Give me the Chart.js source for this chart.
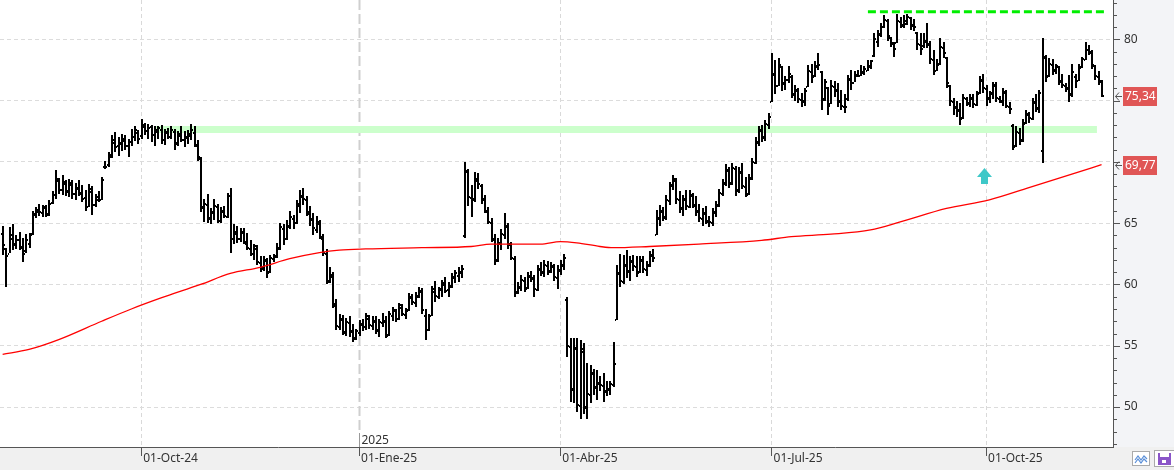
<!DOCTYPE html>
<html>
<head>
<meta charset="utf-8">
<script src="https://cdn.jsdelivr.net/npm/chart.js@4.4.1/dist/chart.umd.min.js"></script>
<style>
  html, body { margin: 0; padding: 0; background: #fff; }
  #wrap { width: 1174px; height: 470px; position: relative; }
</style>
</head>
<body>
<div id="wrap"><canvas id="priceChart"></canvas></div>
<script>
// daily bars, index 0 = first visible session
var opens = [
  64.2, 63.0, 62.6, 63.8, 63.3, 63.7, 63.1, 62.8, 63.4, 64.2,
  65.8, 66.0, 65.9, 66.3, 65.8, 66.7, 67.4, 68.5, 67.8, 68.3,
  67.6, 68.2, 67.5, 67.9, 67.5, 67.1, 66.4, 67.6, 66.6, 67.0,
  67.0, 69.7, 69.8, 70.5, 71.6, 71.4, 71.6, 71.8, 71.4, 71.7,
  72.1, 72.4, 72.2, 72.9, 72.6, 72.9, 72.3, 72.5, 72.7, 71.9,
  72.4, 72.1, 72.5, 71.6, 72.2, 71.9, 72.0, 72.2, 72.4, 71.4,
  70.3, 66.3, 66.6, 65.4, 65.9, 66.4, 65.3, 66.0, 65.6, 67.3,
  63.8, 64.2, 63.8, 64.3, 63.4, 63.0, 62.6, 63.0, 61.8, 61.4,
  62.0, 61.0, 62.2, 62.3, 63.0, 64.6, 63.8, 64.8, 65.4, 65.1,
  66.5, 67.2, 67.0, 65.8, 65.4, 64.5, 65.0, 63.8, 62.6, 60.3,
  60.7, 58.3, 56.6, 57.2, 56.1, 56.9, 56.2, 55.6, 56.1, 56.8,
  56.6, 57.3, 56.7, 57.0, 56.3, 56.9, 57.0, 55.9, 57.5, 57.9,
  57.3, 58.2, 57.6, 57.9, 59.0, 58.6, 59.1, 59.5, 57.5, 56.4,
  57.5, 59.5, 59.1, 59.6, 60.0, 59.6, 59.9, 60.6, 60.8, 61.0,
  64.0, 69.3, 67.1, 67.0, 68.5, 68.1, 67.0, 66.0, 65.1, 63.7,
  62.0, 63.4, 64.1, 64.8, 63.3, 62.2, 59.4, 59.8, 60.4, 59.7,
  60.7, 60.5, 59.6, 61.3, 61.0, 61.6, 61.1, 61.5, 60.6, 61.2,
  61.6, 58.8, 55.0, 51.5, 54.8, 50.2, 54.6, 50.0, 51.1, 52.8,
  51.6, 52.0, 51.8, 51.3, 51.5, 51.9, 57.2, 60.9, 60.3, 61.6,
  61.1, 61.9, 61.5, 61.0, 62.0, 61.3, 61.6, 62.4, 64.1, 65.4,
  66.0, 65.5, 66.9, 68.1, 68.5, 67.0, 66.2, 67.0, 66.4, 67.3,
  66.5, 66.0, 65.4, 65.8, 65.2, 65.1, 65.9, 66.5, 67.5, 68.3,
  69.3, 68.3, 69.5, 67.7, 69.2, 68.0, 67.4, 68.7, 70.0, 71.6,
  72.6, 72.0, 73.1, 75.0, 77.2, 76.3, 77.8, 76.4, 76.8, 77.0,
  75.5, 75.9, 75.1, 75.0, 76.2, 77.4, 77.0, 77.8, 77.4, 75.1,
  76.1, 74.8, 76.2, 75.9, 75.0, 74.6, 75.2, 76.8, 76.5, 77.1,
  77.1, 77.3, 77.5, 77.8, 78.7, 79.9, 80.4, 81.1, 81.6, 80.2,
  79.7, 79.8, 81.5, 81.2, 81.3, 81.8, 81.2, 80.6, 79.6, 79.5,
  79.9, 79.6, 78.4, 77.5, 78.0, 79.4, 78.6, 76.3, 75.0, 74.5,
  74.2, 73.6, 75.2, 74.8, 75.2, 74.7, 75.6, 76.7, 76.0, 75.2,
  75.6, 76.3, 75.2, 75.0, 75.7, 74.6, 73.0, 71.3, 72.4, 71.8,
  73.2, 73.9, 73.6, 74.9, 74.4, 71.0, 78.6, 77.0, 78.0, 77.5,
  77.8, 76.6, 76.3, 76.0, 75.5, 77.0, 76.7, 77.8, 78.4, 79.2,
  79.0, 77.9, 77.0, 76.6
];
var highs = [
  64.8, 63.0, 64.7, 64.9, 64.0, 64.3, 63.8, 64.1, 64.2, 66.0,
  66.3, 66.6, 66.5, 66.5, 66.9, 67.6, 69.3, 68.7, 68.9, 68.5,
  68.6, 68.5, 68.3, 68.5, 68.1, 67.7, 68.2, 68.0, 67.4, 67.6,
  68.8, 70.1, 70.8, 72.2, 72.4, 72.0, 72.3, 72.2, 71.9, 72.7,
  72.9, 72.6, 73.5, 73.2, 73.1, 73.0, 72.9, 72.9, 73.0, 72.7,
  72.8, 72.9, 72.7, 72.5, 72.9, 72.5, 72.6, 73.1, 72.9, 71.8,
  70.4, 67.0, 67.4, 66.2, 67.0, 66.6, 66.3, 66.4, 67.5, 67.9,
  64.9, 64.8, 64.6, 64.6, 64.2, 63.6, 63.3, 63.2, 62.3, 62.3,
  62.2, 62.4, 62.5, 63.4, 65.0, 64.9, 65.3, 66.0, 65.7, 66.9,
  67.7, 67.9, 67.2, 66.4, 65.8, 65.6, 65.3, 64.1, 62.9, 61.4,
  61.0, 58.8, 57.6, 57.5, 57.3, 57.4, 56.8, 56.4, 57.1, 57.2,
  57.7, 57.5, 57.4, 57.4, 57.2, 57.7, 57.4, 57.8, 58.2, 58.0,
  58.5, 58.4, 58.1, 59.3, 59.2, 59.4, 59.8, 59.7, 58.0, 57.6,
  59.9, 60.3, 59.8, 60.4, 60.6, 60.2, 60.9, 61.2, 61.4, 61.6,
  70.0, 69.4, 68.1, 69.2, 69.1, 68.2, 67.3, 66.3, 65.4, 64.1,
  63.8, 64.5, 65.8, 65.0, 63.5, 62.3, 60.2, 60.8, 60.6, 61.0,
  61.1, 60.8, 61.6, 61.8, 62.0, 61.9, 61.8, 61.7, 61.6, 62.0,
  62.5, 59.0, 55.6, 55.6, 55.6, 55.5, 55.2, 53.6, 53.4, 53.1,
  53.0, 52.5, 52.8, 52.1, 52.1, 55.3, 61.6, 62.5, 62.4, 62.8,
  62.3, 62.4, 62.3, 62.3, 62.3, 61.9, 62.7, 62.9, 66.1, 66.5,
  66.3, 67.3, 68.4, 68.9, 68.7, 67.6, 67.3, 67.7, 67.7, 67.5,
  67.2, 66.6, 66.2, 66.4, 65.6, 66.2, 66.8, 67.8, 68.6, 69.8,
  69.6, 69.9, 69.7, 69.6, 69.9, 68.8, 69.0, 70.3, 72.0, 72.9,
  73.0, 73.4, 74.0, 78.9, 78.3, 78.5, 77.8, 77.0, 77.8, 77.1,
  76.3, 76.0, 75.6, 76.0, 77.9, 78.0, 78.2, 78.9, 77.4, 76.8,
  76.1, 76.7, 76.6, 76.4, 75.9, 75.5, 77.1, 77.5, 77.4, 77.5,
  77.9, 77.8, 78.3, 78.3, 80.5, 80.8, 81.3, 82.0, 81.7, 80.2,
  79.8, 82.1, 81.8, 82.0, 82.1, 81.8, 81.7, 80.6, 80.5, 80.5,
  81.3, 79.9, 79.1, 78.4, 80.1, 79.8, 78.6, 76.3, 75.2, 75.0,
  74.8, 75.5, 75.3, 75.5, 75.5, 75.8, 77.0, 77.2, 76.3, 75.8,
  76.5, 76.5, 75.4, 76.0, 75.9, 74.9, 73.1, 72.9, 72.8, 73.5,
  74.2, 74.1, 75.2, 75.5, 75.9, 80.1, 78.7, 78.5, 78.4, 78.0,
  77.8, 77.2, 76.4, 77.1, 78.0, 77.2, 78.0, 78.6, 79.8, 79.5,
  79.1, 77.9, 77.4, 76.7
];
var lows = [
  62.4, 59.8, 62.6, 62.8, 62.9, 62.8, 61.8, 62.6, 63.0, 64.0,
  65.4, 65.6, 65.5, 65.5, 65.6, 66.6, 67.0, 67.4, 67.3, 67.2,
  67.1, 67.0, 66.9, 67.2, 66.7, 66.0, 66.3, 65.7, 66.3, 66.7,
  66.9, 69.4, 69.6, 70.3, 70.8, 70.5, 70.9, 71.0, 70.4, 71.3,
  71.7, 71.5, 71.9, 72.2, 71.9, 71.6, 71.3, 71.9, 71.5, 71.4,
  71.9, 71.9, 71.0, 71.3, 71.6, 71.2, 71.5, 71.8, 71.2, 70.1,
  65.9, 65.1, 65.0, 64.9, 65.3, 65.0, 65.0, 65.4, 65.4, 62.6,
  63.3, 63.4, 63.5, 63.3, 62.8, 62.3, 62.0, 61.6, 61.0, 61.1,
  60.5, 60.9, 61.8, 62.2, 62.8, 63.2, 63.6, 64.5, 64.5, 64.9,
  65.8, 66.5, 65.6, 64.8, 64.0, 64.2, 63.7, 62.3, 60.0, 60.1,
  58.1, 56.3, 56.3, 55.9, 55.8, 55.7, 55.3, 55.5, 55.8, 56.2,
  56.3, 56.4, 56.3, 56.0, 55.7, 56.5, 55.6, 55.8, 57.0, 56.9,
  57.1, 57.4, 57.2, 57.8, 58.3, 58.2, 58.9, 57.6, 55.5, 56.2,
  57.4, 58.6, 58.8, 59.0, 59.3, 59.0, 59.7, 60.1, 60.2, 60.5,
  63.8, 66.4, 65.5, 66.7, 67.8, 66.6, 65.8, 64.9, 63.5, 61.6,
  61.8, 62.8, 63.7, 62.9, 62.0, 59.0, 59.2, 59.5, 59.4, 59.6,
  60.2, 59.0, 59.5, 60.7, 60.6, 60.8, 60.9, 60.3, 59.6, 60.8,
  61.2, 54.1, 50.4, 50.3, 49.6, 49.0, 49.4, 49.0, 50.3, 51.0,
  50.6, 51.3, 50.4, 50.9, 51.0, 51.6, 57.1, 59.8, 60.0, 60.5,
  60.3, 61.1, 60.6, 60.9, 60.9, 60.7, 61.4, 61.8, 64.0, 64.8,
  65.2, 65.3, 66.5, 67.7, 66.6, 65.8, 65.6, 66.1, 66.2, 66.2,
  65.6, 65.1, 64.8, 64.9, 64.7, 64.8, 65.5, 66.3, 67.2, 68.0,
  67.9, 68.1, 67.2, 67.5, 67.8, 67.1, 67.3, 68.5, 69.8, 71.3,
  71.6, 71.7, 72.7, 74.9, 75.5, 76.2, 75.8, 75.9, 76.4, 75.2,
  75.0, 74.8, 74.5, 74.6, 76.1, 76.4, 76.9, 77.5, 74.2, 75.0,
  73.8, 74.7, 75.3, 74.5, 74.2, 74.0, 75.0, 75.9, 76.5, 76.9,
  77.0, 77.1, 77.4, 77.6, 78.6, 79.4, 80.2, 80.9, 79.9, 79.4,
  78.6, 79.7, 80.9, 80.9, 81.2, 80.8, 80.7, 79.1, 78.7, 79.3,
  79.3, 78.0, 77.1, 77.4, 77.9, 78.5, 76.0, 74.6, 73.8, 73.7,
  73.0, 73.5, 74.6, 74.5, 74.4, 74.6, 75.5, 75.6, 74.6, 74.8,
  75.1, 74.9, 74.8, 74.6, 74.4, 73.9, 71.0, 71.2, 71.4, 71.6,
  73.1, 73.2, 73.4, 74.1, 74.0, 69.9, 76.5, 76.9, 77.1, 77.2,
  76.3, 76.0, 75.7, 74.9, 75.3, 76.0, 76.6, 77.7, 78.3, 78.7,
  77.6, 76.7, 76.3, 75.3
];
var closes = [
  63.2, 62.3, 64.0, 63.3, 63.6, 63.0, 62.5, 63.6, 64.0, 65.7,
  66.1, 65.9, 66.3, 65.7, 66.6, 67.3, 68.6, 67.7, 68.4, 67.6,
  68.3, 67.4, 67.9, 67.5, 67.0, 66.3, 67.8, 66.5, 67.1, 66.9,
  68.5, 69.6, 70.6, 71.8, 71.2, 71.5, 71.9, 71.3, 71.6, 72.0,
  72.6, 71.9, 73.0, 72.5, 72.8, 72.2, 72.6, 72.8, 71.8, 72.4,
  72.0, 72.6, 71.5, 72.3, 71.8, 72.0, 72.3, 72.6, 71.4, 70.4,
  66.3, 66.6, 65.4, 65.9, 66.4, 65.2, 66.0, 65.6, 67.2, 63.7,
  64.3, 63.7, 64.3, 63.5, 63.0, 62.5, 63.1, 61.8, 61.3, 62.0,
  61.0, 62.2, 62.3, 63.0, 64.7, 63.7, 64.8, 65.5, 65.0, 66.6,
  67.2, 67.0, 65.9, 65.3, 64.6, 65.1, 63.9, 62.6, 60.3, 60.8,
  58.4, 56.6, 57.2, 56.1, 56.9, 56.2, 55.6, 56.2, 56.8, 56.5,
  57.4, 56.7, 57.0, 56.3, 56.9, 57.0, 55.9, 57.6, 57.9, 57.2,
  58.3, 57.6, 57.9, 59.0, 58.6, 59.1, 59.5, 57.9, 56.3, 57.4,
  59.6, 59.1, 59.6, 60.1, 59.5, 59.9, 60.6, 60.9, 61.0, 61.3,
  69.2, 67.1, 67.0, 68.6, 68.2, 67.0, 66.0, 65.1, 63.7, 62.0,
  63.4, 64.1, 64.8, 63.3, 62.2, 59.4, 59.8, 60.4, 59.7, 60.7,
  60.5, 59.6, 61.3, 61.0, 61.6, 61.1, 61.5, 60.6, 61.2, 61.6,
  62.2, 55.0, 51.5, 54.8, 50.2, 54.7, 50.0, 51.1, 52.8, 51.6,
  52.0, 51.8, 51.3, 51.5, 51.9, 53.5, 60.9, 60.3, 61.6, 61.1,
  61.9, 61.5, 61.0, 62.0, 61.3, 61.6, 62.4, 62.2, 65.4, 66.0,
  65.5, 66.9, 68.1, 68.6, 67.0, 66.2, 67.0, 66.4, 67.3, 66.5,
  66.0, 65.4, 65.8, 65.2, 65.1, 65.9, 66.5, 67.5, 68.3, 69.3,
  68.3, 69.5, 67.7, 69.2, 68.0, 67.4, 68.7, 70.0, 71.6, 72.6,
  72.0, 73.1, 73.7, 77.2, 76.2, 77.9, 76.4, 76.7, 77.2, 75.5,
  75.9, 75.1, 75.0, 75.8, 77.4, 77.0, 77.8, 77.9, 75.1, 76.5,
  74.6, 76.2, 75.9, 75.0, 74.6, 74.5, 76.8, 76.4, 77.1, 77.0,
  77.3, 77.6, 77.8, 78.2, 80.0, 80.4, 81.0, 81.6, 80.3, 79.7,
  79.2, 81.5, 81.2, 81.5, 81.8, 81.2, 81.0, 79.6, 79.2, 79.9,
  79.6, 78.4, 77.4, 78.0, 79.4, 78.9, 76.4, 75.0, 74.5, 74.2,
  73.6, 75.2, 74.8, 75.2, 74.7, 75.6, 76.7, 76.0, 75.2, 75.6,
  76.3, 75.2, 75.0, 75.7, 74.6, 74.3, 71.3, 72.4, 71.8, 73.2,
  73.9, 73.6, 74.9, 74.4, 75.6, 78.6, 77.0, 78.0, 77.5, 77.8,
  76.6, 76.3, 76.0, 75.5, 77.3, 76.6, 77.7, 78.4, 79.1, 79.0,
  77.9, 77.0, 76.6, 75.34
];

// moving average (red), read at some bars
var maBars = [0, 8, 17, 30, 39, 48, 60, 69, 78, 87, 96, 102, 110, 127, 142, 148, 163,
  169, 174, 181, 185, 196, 211, 230, 239, 251, 263, 272, 286, 299, 311, 324, 333];
var maValues = [54.3, 54.7, 55.5, 57.0, 58.0, 58.9, 60.0, 60.9, 61.4, 62.1, 62.6, 62.8, 62.9,
  63.0, 63.1, 63.3, 63.3, 63.5, 63.4, 63.1, 63.0, 63.1, 63.3, 63.6, 63.9, 64.1, 64.45,
  65.1, 66.2, 66.9, 67.9, 69.0, 69.77];

// support zone and resistance
var supportBars = [46, 331.6];
var supportLevel = 72.64;
var resistBars = [262.2, 334.6];
var resistLevel = 82.25;

// buy signal arrow
var signalBar = 297.5;
var signalValue = 69.5;

// axes
var priceTicks = [50, 55, 60, 65, 70, 75, 80];
var tickBars = [42, 108, 169, 233, 298];
var tickLabels = ['01-Oct-24', '01-Ene-25', '01-Abr-25', '01-Jul-25', '01-Oct-25'];
var yearBar = 108;
var yearLabel = '2025';

var fmt = function (v) { return v.toFixed(2).replace('.', ','); };

Chart.defaults.font.family = "'Noto Sans', 'DejaVu Sans', sans-serif";
Chart.defaults.font.size = 12;
Chart.defaults.color = '#333';

var decor = {
  id: 'decor',
  beforeDraw: function (chart) {
    var ctx = chart.ctx, a = chart.chartArea;
    ctx.save();
    ctx.fillStyle = '#ffffff';
    ctx.fillRect(0, 0, chart.width, chart.height);
    ctx.fillStyle = '#f3f4f7';
    ctx.fillRect(a.right, 0, chart.width - a.right, a.bottom);
    ctx.fillStyle = '#f0f0f0';
    ctx.fillRect(0, a.bottom, chart.width, chart.height - a.bottom);
    ctx.restore();
  },
  beforeDatasetsDraw: function (chart) {
    var ctx = chart.ctx, x = chart.scales.x, a = chart.chartArea;
    var px = Math.round(x.getPixelForValue(yearBar)) + 0.5;
    ctx.save();
    ctx.strokeStyle = '#cfcfcf';
    ctx.lineWidth = 2;
    ctx.setLineDash([10, 4]);
    ctx.beginPath();
    ctx.moveTo(px, a.top);
    ctx.lineTo(px, a.bottom - 14);
    ctx.stroke();
    ctx.setLineDash([]);
    ctx.lineWidth = 1;
    ctx.strokeStyle = '#999';
    ctx.beginPath();
    ctx.moveTo(px, a.bottom - 14);
    ctx.lineTo(px, a.bottom);
    ctx.stroke();
    ctx.fillStyle = '#333';
    ctx.font = "12px 'Noto Sans'";
    ctx.textBaseline = 'alphabetic';
    ctx.fillText(yearLabel, px + 2, a.bottom - 3);
    ctx.restore();
  },
  afterDatasetDraw: function (chart, args) {
    if (args.index !== 2) return;
    var ctx = chart.ctx, x = chart.scales.x, y = chart.scales.y;
    ctx.save();
    ctx.fillStyle = '#000';
    for (var i = 0; i < closes.length; i++) {
      var px = Math.round(x.getPixelForValue(i) - 0.5);
      var yh = Math.round(y.getPixelForValue(highs[i]));
      var yl = Math.round(y.getPixelForValue(lows[i]));
      ctx.fillRect(px, yh, 2, Math.max(yl - yh, 1));
      ctx.fillRect(px - 1, Math.round(y.getPixelForValue(opens[i])), 1, 2);
      ctx.fillRect(px + 2, Math.round(y.getPixelForValue(closes[i])) - 1, 1, 2);
    }
    // signal arrow
    var ax = Math.round(x.getPixelForValue(signalBar)) + 0.5;
    var ay = Math.round(y.getPixelForValue(signalValue));
    ctx.fillStyle = '#3ec8c8';
    ctx.beginPath();
    ctx.moveTo(ax, ay);
    ctx.lineTo(ax + 7.5, ay + 9);
    ctx.lineTo(ax + 3.5, ay + 9);
    ctx.lineTo(ax + 3.5, ay + 16);
    ctx.lineTo(ax - 3.5, ay + 16);
    ctx.lineTo(ax - 3.5, ay + 9);
    ctx.lineTo(ax - 7.5, ay + 9);
    ctx.closePath();
    ctx.fill();
    ctx.restore();
  },
  afterDraw: function (chart) {
    var ctx = chart.ctx, y = chart.scales.y, a = chart.chartArea;
    ctx.save();
    // y axis ticks
    ctx.strokeStyle = '#555';
    ctx.lineWidth = 1;
    ctx.beginPath();
    for (var v = Math.ceil(y.min); v <= y.max; v++) {
      var py = Math.round(y.getPixelForValue(v)) + 0.5;
      ctx.moveTo(a.right, py);
      ctx.lineTo(a.right + (v % 5 === 0 ? 7 : 4), py);
    }
    ctx.stroke();
    // price tags
    var tags = [closes[closes.length - 1], maValues[maValues.length - 1]];
    ctx.font = "12px 'Noto Sans'";
    ctx.textBaseline = 'middle';
    tags.forEach(function (t) {
      var py = Math.round(y.getPixelForValue(t));
      ctx.fillStyle = '#e05656';
      ctx.fillRect(a.right + 10, py - 9, 34, 19);
      ctx.fillStyle = '#fff';
      ctx.fillText(fmt(t), a.right + 12, py + 1);
      ctx.strokeStyle = '#555';
      ctx.beginPath();
      ctx.moveTo(a.right + 6, py - 3.5);
      ctx.lineTo(a.right + 2.5, py + 0.5);
      ctx.lineTo(a.right + 6, py + 4.5);
      ctx.moveTo(a.right + 2.5, py + 0.5);
      ctx.lineTo(a.right + 9, py + 0.5);
      ctx.stroke();
    });
    // small buttons bottom right
    ctx.fillStyle = '#fff';
    ctx.strokeStyle = '#aaa';
    ctx.fillRect(1132, 451, 17, 14);
    ctx.strokeRect(1132.5, 451.5, 17, 14);
    ctx.fillRect(1154, 450, 20, 16);
    ctx.strokeRect(1154.5, 450.5, 20, 16);
    ctx.strokeStyle = '#5a8fd8';
    ctx.lineWidth = 1.2;
    ctx.beginPath();
    ctx.moveTo(1135, 460); ctx.lineTo(1138, 456); ctx.lineTo(1141, 460); ctx.lineTo(1144, 456); ctx.lineTo(1147, 459);
    ctx.moveTo(1135, 463); ctx.lineTo(1138, 459); ctx.lineTo(1141, 463); ctx.lineTo(1144, 459); ctx.lineTo(1147, 462);
    ctx.stroke();
    ctx.fillStyle = '#8a55c8';
    ctx.fillRect(1158, 453, 13, 12);
    ctx.fillStyle = '#fff';
    ctx.fillRect(1160, 453, 9, 4);
    ctx.fillRect(1162, 460, 4, 3);
    ctx.restore();
  }
};

var ctx = document.getElementById('priceChart');
var chart = new Chart(ctx, {
  type: 'line',
  data: {
    datasets: [{
      label: 'Resistencia',
      data: resistBars.map(function (b) { return {x: b, y: resistLevel}; }),
      borderColor: '#00ee00',
      borderWidth: 3,
      borderDash: [8, 4],
      pointRadius: 0
    }, {
      label: 'Media',
      data: maBars.map(function (b, k) { return {x: b, y: maValues[k]}; }),
      borderColor: '#ff0000',
      borderWidth: 1.3,
      pointRadius: 0,
      cubicInterpolationMode: 'monotone'
    }, {
      label: 'Soporte',
      data: supportBars.map(function (b) { return {x: b, y: supportLevel}; }),
      borderColor: '#ccffcc',
      borderWidth: 7,
      borderCapStyle: 'butt',
      pointRadius: 0
    }]
  },
  plugins: [decor],
  options: {
    responsive: true,
    maintainAspectRatio: false,
    animation: false,
    layout: { padding: 0 },
    plugins: { legend: { display: false }, tooltip: { enabled: false } },
    scales: {
      x: {
        type: 'linear',
        bounds: 'data',
        min: -0.8,
        max: 336.47,
        afterBuildTicks: function (scale) {
          scale.ticks = tickBars.map(function (b) { return {value: b}; });
        },
        afterFit: function (scale) {
          scale.height = 23;
          scale.paddingLeft = 0;
          scale.paddingRight = 0;
        },
        grid: {
          color: function (c) { return c.tick && c.tick.value === yearBar ? 'rgba(0,0,0,0)' : '#d9d9d9'; },
          tickColor: '#555',
          tickLength: 9
        },
        border: { color: '#555', dash: [4, 3] },
        ticks: {
          autoSkip: false,
          maxRotation: 0,
          align: 'start',
          labelOffset: 2,
          padding: -5,
          color: '#333',
          callback: function (v, i) { return tickLabels[i]; }
        }
      },
      y: {
        type: 'linear',
        position: 'right',
        bounds: 'data',
        min: 46.74,
        max: 83.21,
        afterBuildTicks: function (scale) {
          scale.ticks = priceTicks.map(function (v) { return {value: v}; });
        },
        afterFit: function (scale) {
          scale.width = 61;
          scale.paddingTop = 0;
          scale.paddingBottom = 0;
        },
        grid: { color: '#dcdcdc', drawTicks: false },
        border: { color: '#555', dash: [4, 3] },
        ticks: {
          autoSkip: false,
          padding: 11,
          color: '#333',
          callback: function (v) { return String(v); }
        }
      }
    }
  }
});
</script>
</body>
</html>
